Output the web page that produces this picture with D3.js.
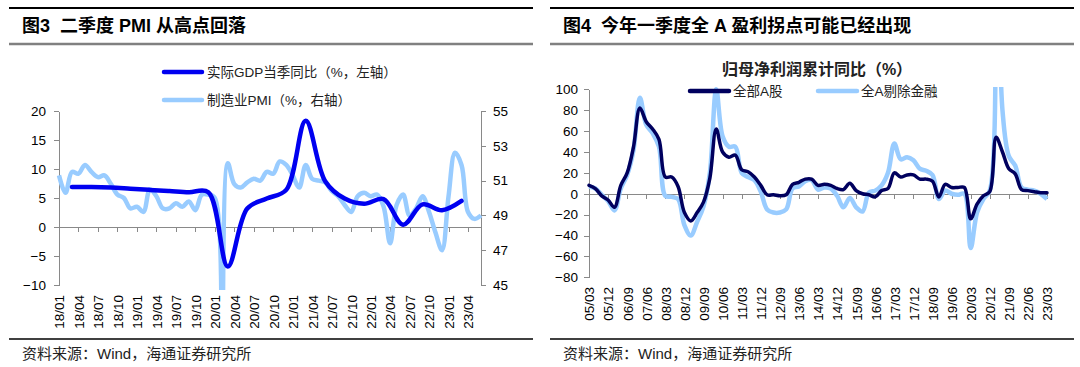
<!DOCTYPE html>
<html>
<head>
<meta charset="utf-8">
<script src="https://cdn.jsdelivr.net/npm/d3@7"></script>
<style>
body { margin: 0; background: #fff; }
svg text { font-family: "Liberation Sans", Arial, "Noto Sans CJK SC", sans-serif; fill: #000; }
.axis path, .axis line { stroke: #898989; stroke-width: 1; shape-rendering: crispEdges; }
</style>
</head>
<body>
<script>
// ---- left chart data (monthly, 18/01 .. 23/06) ----
var months = [];
for (var yy = 18; yy <= 23; yy++) {
  for (var mm = 1; mm <= 12; mm++) {
    if (yy == 23 && mm > 6) break;
    months.push(yy + "/" + (mm < 10 ? "0" + mm : mm));
  }
}
var monthTicks = ["18/01","18/04","18/07","18/10","19/01","19/04","19/07","19/10","20/01","20/04","20/07","20/10",
                  "21/01","21/04","21/07","21/10","22/01","22/04","22/07","22/10","23/01","23/04"];
var pmi = [51.3,50.3,51.5,51.4,51.9,51.5,51.2,51.3,50.8,50.2,50.0,49.4,
           49.5,49.2,50.5,50.1,49.4,49.4,49.7,49.5,49.8,49.3,50.2,50.2,
           50.0,35.7,52.0,50.8,50.6,50.9,51.1,51.0,51.5,51.4,52.1,51.9,
           51.3,50.6,51.9,51.1,51.0,50.9,50.4,50.1,49.6,49.2,50.1,50.3,
           50.1,50.2,49.5,47.4,49.6,50.2,49.0,49.4,50.1,49.2,48.0,47.0,
           50.1,52.6,51.9,49.2,48.8,49.0];
var gdpQuarters = ["18/03","18/06","18/09","18/12","19/03","19/06","19/09","19/12","20/03","20/06","20/09","20/12",
                   "21/03","21/06","21/09","21/12","22/03","22/06","22/09","22/12","23/03"];
var gdp = [6.9,6.9,6.8,6.6,6.4,6.2,6.0,6.0,-6.8,3.2,4.9,6.4,18.3,7.9,4.9,4.0,4.8,0.4,3.9,2.9,4.5];
var leftTicks = [-10,-5,0,5,10,15,20];
var rightTicks = [45,47,49,51,53,55];

// ---- right chart data (quarterly, 05/03 .. 23/03) ----
var quarters = [];
for (var y2 = 5; y2 <= 23; y2++) {
  ["03","06","09","12"].forEach(function(q) {
    if (y2 == 23 && q != "03") return;
    quarters.push((y2 < 10 ? "0" + y2 : y2) + "/" + q);
  });
}
var quarterTicks = quarters.filter(function(d, i) { return i % 3 == 0; });
var allA = [8,5,-2,-6,-13,8,20,45,82,69,62,52,
            16,16,7,-18,-26,-18,-8,15,62,40,35,37,
            23,21,16,8,-1,-1,-2,-1,9,11,14,14,
            8,9,8,5,4,10,3,0,-1,-3,3,5,
            20,16,18,18,14,14,12,-3,9,6,6,6,
            -24,-10,-2,2,54,40,24,19,4,3,2,1,1];
var exFin = [7,5,-1,-7,-16,5,18,42,92,66,58,45,
             -2,-3,-5,-30,-40,-27,-12,20,100,55,45,45,
             20,16,13,2,-15,-18,-18,-15,5,7,12,13,
             4,6,5,-2,-13,-4,-13,-17,1,3,8,20,
             48,33,35,32,24,22,18,-5,3,0,-1,0,
             -52,-18,-5,3,260,80,36,27,6,4,3,0,-5];
var profitTicks = [-80,-60,-40,-20,0,20,40,60,80,100];

var svg = d3.select("body").append("svg")
  .attr("width", 1080)
  .attr("height", 367);

// panel frames: black rule, title, grey rule, source rule, source
function frame(x0, x1, title) {
  svg.append("line").attr("x1", x0).attr("x2", x1).attr("y1", 8).attr("y2", 8)
    .style("stroke", "#000").style("stroke-width", 2);
  svg.append("text").attr("x", x0 + 13).attr("y", 32)
    .style("font-size", "18px").style("font-weight", "bold").style("white-space", "pre")
    .text(title);
  svg.append("line").attr("x1", x0).attr("x2", x1).attr("y1", 44).attr("y2", 44)
    .style("stroke", "#808080").style("stroke-width", 2.5);
  svg.append("line").attr("x1", x0).attr("x2", x1).attr("y1", 339).attr("y2", 339)
    .style("stroke", "#000").style("stroke-width", 1.5);
  svg.append("text").attr("x", x0 + 13).attr("y", 359)
    .style("font-size", "15px").style("fill", "#222")
    .text("资料来源：Wind，海通证券研究所");
}
frame(9, 533, "图3  二季度 PMI 从高点回落");
frame(550, 1074, "图4  今年一季度全 A 盈利拐点可能已经出现");

// ================= left chart =================
var xL = d3.scalePoint().domain(months).range([59, 481]);
var yL = d3.scaleLinear().domain([-10, 20]).range([285, 111]);
var yR = d3.scaleLinear().domain([45, 55]).range([285, 111]);

svg.append("clipPath").attr("id", "clipL").append("rect")
  .attr("x", 50).attr("y", 100).attr("width", 440).attr("height", 190);

var gL = svg.append("g");
gL.append("g").attr("class", "axis").attr("transform", "translate(59,0)")
  .call(d3.axisLeft(yL).tickValues(leftTicks).tickSize(5).tickSizeOuter(0))
  .selectAll("text").style("font-size", "13.5px").attr("x", -13);
gL.append("g").attr("class", "axis").attr("transform", "translate(481,0)")
  .call(d3.axisRight(yR).tickValues(rightTicks).tickSize(5).tickSizeOuter(0))
  .selectAll("text").style("font-size", "13.5px").attr("x", 12);
var axL = gL.append("g").attr("class", "axis").attr("transform", "translate(0," + yL(0) + ")")
  .call(d3.axisBottom(xL).tickValues(monthTicks).tickSize(5).tickSizeOuter(0));
axL.selectAll("text")
  .style("font-size", "13.5px")
  .attr("transform", "rotate(-90)")
  .attr("x", -(295 - yL(0))).attr("y", 0).attr("dy", "0.36em")
  .attr("text-anchor", "end");
gL.selectAll(".axis .domain").style("stroke", "#898989");

var pmiLine = d3.line()
  .x(function(d, i) { return xL(months[i]); })
  .y(function(d) { return yR(d); })
  .curve(d3.curveCatmullRom.alpha(0.5));
var gdpLine = d3.line()
  .x(function(d, i) { return xL(gdpQuarters[i]); })
  .y(function(d) { return yL(d); })
  .curve(d3.curveCatmullRom.alpha(0.5));

gL.append("path").datum(pmi).attr("clip-path", "url(#clipL)")
  .attr("d", pmiLine)
  .style("fill", "none").style("stroke", "#99ccff").style("stroke-width", 4.5)
  .style("stroke-linejoin", "round");
gL.append("path").datum(gdp).attr("clip-path", "url(#clipL)")
  .attr("d", gdpLine)
  .style("fill", "none").style("stroke", "#0000f0").style("stroke-width", 4.5)
  .style("stroke-linejoin", "round").style("stroke-linecap", "round");

// legend
var legL = [["实际GDP当季同比（%，左轴）", "#0000f0", 72], ["制造业PMI（%，右轴）", "#99ccff", 100]];
legL.forEach(function(d) {
  svg.append("line").attr("x1", 164).attr("x2", 202).attr("y1", d[2]).attr("y2", d[2])
    .style("stroke", d[1]).style("stroke-width", 4.5).style("stroke-linecap", "round");
  svg.append("text").attr("x", 207).attr("y", d[2] + 5)
    .style("font-size", "13.5px").style("fill", "#222").text(d[0]);
});

// ================= right chart =================
var xQ = d3.scalePoint().domain(quarters).range([589, 1047]);
var yP = d3.scaleLinear().domain([-80, 100]).range([277.3, 89.3]);

svg.append("clipPath").attr("id", "clipR").append("rect")
  .attr("x", 580).attr("y", 87).attr("width", 480).attr("height", 195);

var gR = svg.append("g");
gR.append("g").attr("class", "axis").attr("transform", "translate(589,0)")
  .call(d3.axisLeft(yP).tickValues(profitTicks).tickSize(5).tickSizeOuter(0))
  .selectAll("text").style("font-size", "13.5px").attr("x", -11);
var axR = gR.append("g").attr("class", "axis").attr("transform", "translate(0," + yP(0) + ")")
  .call(d3.axisBottom(xQ).tickValues(quarterTicks).tickSize(5).tickSizeOuter(0));
axR.selectAll("text")
  .style("font-size", "13.5px")
  .attr("transform", "rotate(-90)")
  .attr("x", -(287 - yP(0))).attr("y", 0).attr("dy", "0.36em")
  .attr("text-anchor", "end");

var profitLine = d3.line()
  .x(function(d, i) { return xQ(quarters[i]); })
  .y(function(d) { return yP(d); })
  .curve(d3.curveCatmullRom.alpha(0.5));

gR.append("path").datum(exFin).attr("clip-path", "url(#clipR)")
  .attr("d", profitLine)
  .style("fill", "none").style("stroke", "#99ccff").style("stroke-width", 4.5)
  .style("stroke-linejoin", "round");
gR.append("path").datum(allA).attr("clip-path", "url(#clipR)")
  .attr("d", profitLine)
  .style("fill", "none").style("stroke", "#00005e").style("stroke-width", 3.5)
  .style("stroke-linejoin", "round").style("stroke-linecap", "round");

svg.append("text").attr("x", 817).attr("y", 75).attr("text-anchor", "middle")
  .style("font-size", "16px").style("font-weight", "bold").style("fill", "#222")
  .text("归母净利润累计同比（%）");

var legR = [["全部A股", "#00005e", 690], ["全A剔除金融", "#99ccff", 818]];
legR.forEach(function(d) {
  svg.append("line").attr("x1", d[2]).attr("x2", d[2] + 39).attr("y1", 91).attr("y2", 91)
    .style("stroke", d[1]).style("stroke-width", 4.5).style("stroke-linecap", "round");
  svg.append("text").attr("x", d[2] + 43).attr("y", 96)
    .style("font-size", "13.5px").style("fill", "#222").text(d[0]);
});
</script>
</body>
</html>
